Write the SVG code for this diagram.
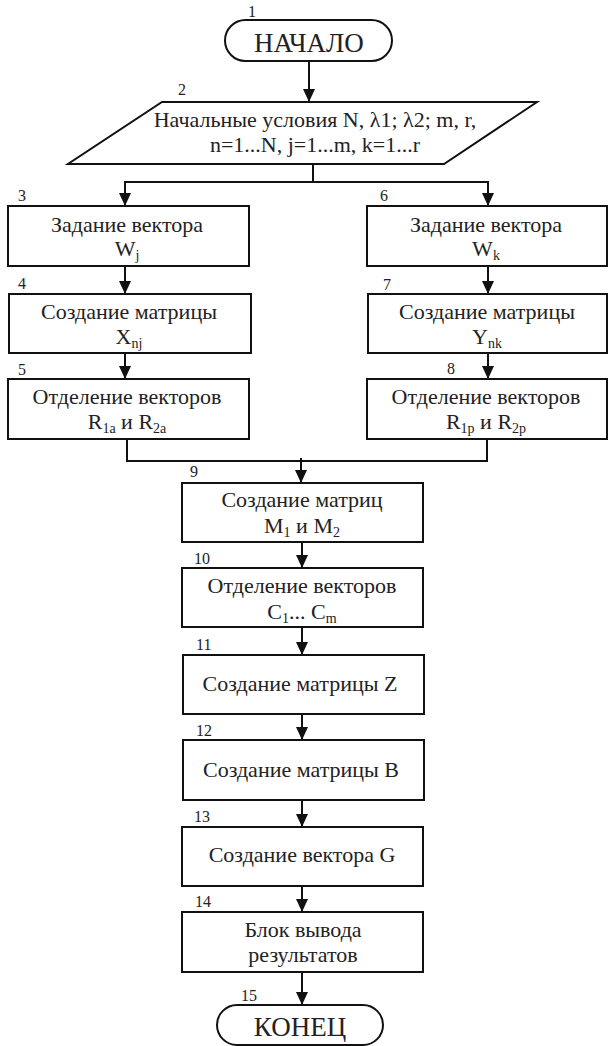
<svg xmlns="http://www.w3.org/2000/svg" width="608" height="1046" viewBox="0 0 608 1046" font-family="'Liberation Serif', 'DejaVu Serif', 'Times New Roman', serif">
<style>
.b{fill:#fff;stroke:#111;stroke-width:2}
.t{font-size:22px;fill:#222;text-anchor:middle}
.tt{font-size:27px;fill:#222;text-anchor:middle}
.n{font-size:16px;fill:#222}
.s{font-size:14px}
.c{fill:none;stroke:#111;stroke-width:2}
</style>
<defs>
<marker id="arr" viewBox="0 0 13 12" markerWidth="13" markerHeight="12" refX="13" refY="6" orient="auto" markerUnits="userSpaceOnUse"><path d="M0,0 L13,6 L0,12 z" fill="#111"/></marker>
</defs>
<rect width="608" height="1046" fill="#fff"/>
<g id="connectors">
<path class="c" d="M309,61 V102" marker-end="url(#arr)"/>
<path class="c" d="M313,164 V182 H125 V206" marker-end="url(#arr)"/>
<path class="c" d="M313,182 H488 V206" marker-end="url(#arr)"/>
<path class="c" d="M125,266 V294" marker-end="url(#arr)"/>
<path class="c" d="M125,353 V379" marker-end="url(#arr)"/>
<path class="c" d="M488,266 V294" marker-end="url(#arr)"/>
<path class="c" d="M488,353 V379" marker-end="url(#arr)"/>
<path class="c" d="M127,439 V461 H487 V439"/>
<path class="c" d="M301,458 V483" marker-end="url(#arr)"/>
<path class="c" d="M302,542 V568" marker-end="url(#arr)"/>
<path class="c" d="M302,627 V655" marker-end="url(#arr)"/>
<path class="c" d="M302,714 V740" marker-end="url(#arr)"/>
<path class="c" d="M302,800 V827" marker-end="url(#arr)"/>
<path class="c" d="M302,886 V912" marker-end="url(#arr)"/>
<path class="c" d="M302,972 V1005" marker-end="url(#arr)"/>
</g>
<g id="n1">
<rect class="b" x="225" y="20" width="167" height="41" rx="20.5"/>
<text class="tt" x="309" y="52">НАЧАЛО</text>
<text class="n" x="248" y="17">1</text>
</g>
<g id="n2">
<polygon class="b" points="162,102 537,102 444,164 68,164"/>
<text class="t" x="315" y="127">Начальные условия N, λ1; λ2; m, r,</text>
<text class="t" x="315" y="152">n=1...N, j=1...m, k=1...r</text>
<text class="n" x="178" y="95">2</text>
</g>
<g id="n3">
<rect class="b" x="8" y="206" width="241" height="60"/>
<text class="t" x="127" y="232">Задание вектора</text>
<text class="t" x="127" y="256">W<tspan class="s" dy="4">j</tspan></text>
<text class="n" x="18" y="201">3</text>
</g>
<g id="n4">
<rect class="b" x="9" y="294" width="242" height="59"/>
<text class="t" x="129" y="319">Создание  матрицы</text>
<text class="t" x="129" y="344">X<tspan class="s" dy="4">nj</tspan></text>
<text class="n" x="18" y="289">4</text>
</g>
<g id="n5">
<rect class="b" x="8" y="379" width="241" height="60"/>
<text class="t" x="127" y="404">Отделение  векторов</text>
<text class="t" x="127" y="429">R<tspan class="s" dy="4">1a</tspan><tspan dy="-4"> и R</tspan><tspan class="s" dy="4">2a</tspan></text>
<text class="n" x="18" y="375">5</text>
</g>
<g id="n6">
<rect class="b" x="367" y="206" width="240" height="60"/>
<text class="t" x="486" y="232">Задание вектора</text>
<text class="t" x="486" y="256">W<tspan class="s" dy="4">k</tspan></text>
<text class="n" x="380" y="201">6</text>
</g>
<g id="n7">
<rect class="b" x="368" y="294" width="239" height="59"/>
<text class="t" x="487" y="319">Создание  матрицы</text>
<text class="t" x="487" y="344">Y<tspan class="s" dy="4">nk</tspan></text>
<text class="n" x="383" y="290">7</text>
</g>
<g id="n8">
<rect class="b" x="367" y="379" width="240" height="60"/>
<text class="t" x="486" y="404">Отделение  векторов</text>
<text class="t" x="486" y="429">R<tspan class="s" dy="4">1p</tspan><tspan dy="-4"> и R</tspan><tspan class="s" dy="4">2p</tspan></text>
<text class="n" x="447" y="374">8</text>
</g>
<g id="n9">
<rect class="b" x="182" y="483" width="241" height="59"/>
<text class="t" x="302" y="507">Создание  матриц</text>
<text class="t" x="302" y="533">M<tspan class="s" dy="4">1</tspan><tspan dy="-4"> и M</tspan><tspan class="s" dy="4">2</tspan></text>
<text class="n" x="190" y="477">9</text>
</g>
<g id="n10">
<rect class="b" x="182" y="568" width="241" height="59"/>
<text class="t" x="302" y="593">Отделение  векторов</text>
<text class="t" x="302" y="619">C<tspan class="s" dy="4">1</tspan><tspan dy="-4">... C</tspan><tspan class="s" dy="4">m</tspan></text>
<text class="n" x="194" y="564">10</text>
</g>
<g id="n11">
<rect class="b" x="183" y="655" width="241" height="59"/>
<text class="t" x="300" y="691">Создание  матрицы Z</text>
<text class="n" x="196" y="650">11</text>
</g>
<g id="n12">
<rect class="b" x="183" y="740" width="241" height="60"/>
<text class="t" x="301" y="777">Создание  матрицы B</text>
<text class="n" x="196" y="736">12</text>
</g>
<g id="n13">
<rect class="b" x="182" y="827" width="241" height="59"/>
<text class="t" x="302" y="862">Создание  вектора G</text>
<text class="n" x="194" y="822">13</text>
</g>
<g id="n14">
<rect class="b" x="182" y="912" width="241" height="60"/>
<text class="t" x="303" y="937">Блок  вывода</text>
<text class="t" x="303" y="962">результатов</text>
<text class="n" x="195" y="907">14</text>
</g>
<g id="n15">
<rect class="b" x="217" y="1005" width="166" height="40" rx="20"/>
<text class="tt" x="300" y="1036">КОНЕЦ</text>
<text class="n" x="241" y="1001">15</text>
</g>
</svg>
